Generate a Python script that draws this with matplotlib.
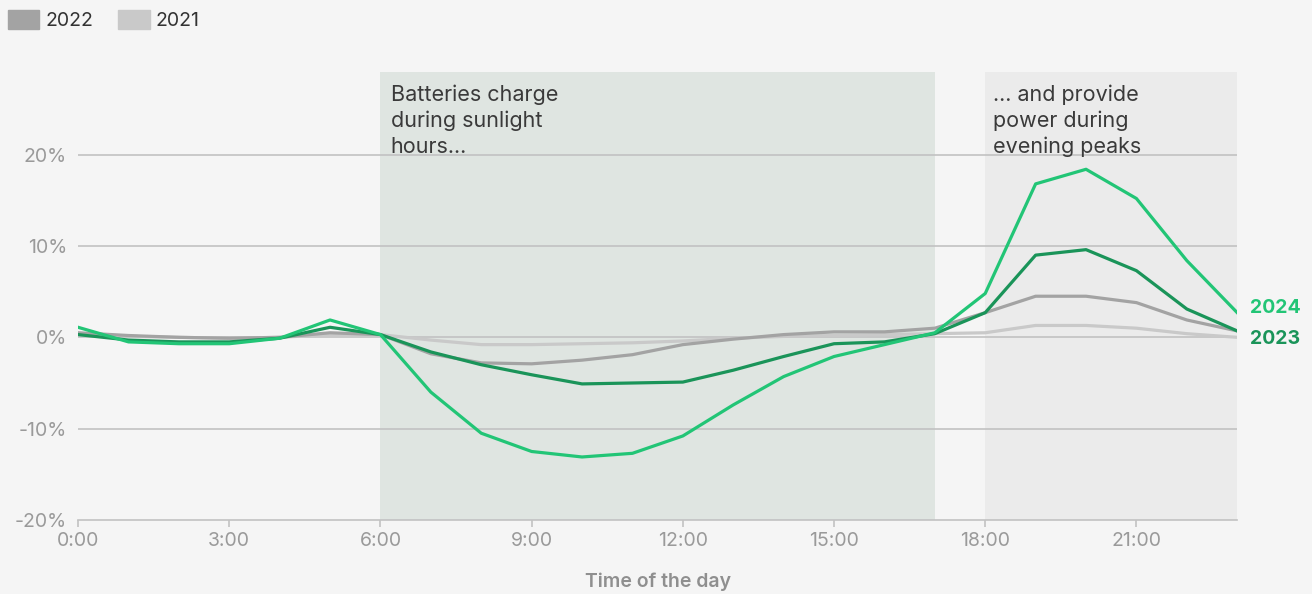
import matplotlib
matplotlib.use("Agg")
import matplotlib.pyplot as plt
from matplotlib.patches import Patch

plt.rcParams['font.family'] = ['Inter', 'DejaVu Sans']

hours = list(range(24))
hour_labels = ['0:00', '3:00', '6:00', '9:00', '12:00', '15:00', '18:00', '21:00']
hour_ticks = [0, 3, 6, 9, 12, 15, 18, 21]

# change in share of the day (%)
y2024 = [1.1, -0.5, -0.7, -0.7, -0.1, 1.9, 0.3, -6.0, -10.5, -12.5, -13.1, -12.7,
         -10.8, -7.4, -4.3, -2.1, -0.8, 0.5, 4.8, 16.8, 18.4, 15.2, 8.4, 2.7]
y2023 = [0.3, -0.3, -0.5, -0.5, -0.1, 1.1, 0.3, -1.6, -3.0, -4.1, -5.1, -5.0,
         -4.9, -3.6, -2.1, -0.7, -0.5, 0.4, 2.7, 9.0, 9.6, 7.3, 3.1, 0.7]
y2022 = [0.5, 0.2, 0.0, -0.1, 0.0, 0.5, 0.3, -1.8, -2.8, -2.9, -2.5, -1.9,
         -0.8, -0.2, 0.3, 0.6, 0.6, 1.0, 2.7, 4.5, 4.5, 3.8, 1.9, 0.7]
y2021 = [0.3, 0.1, 0.0, -0.1, 0.0, 0.3, 0.3, -0.3, -0.8, -0.8, -0.7, -0.6,
         -0.4, -0.1, 0.1, 0.2, 0.3, 0.4, 0.5, 1.3, 1.3, 1.0, 0.4, 0.0]

charge_window = (6, 17)
peak_window = (18, 23)

bg = '#f5f5f5'
c2024 = '#22c576'
c2023 = '#1a9459'
c2022 = '#a3a3a3'
c2021 = '#c9c9c9'

fig = plt.figure(figsize=(13.12, 5.94), dpi=100, facecolor=bg)
ax = fig.add_axes([0.0595, 0.1246, 0.8835, 0.7534])
ax.set_facecolor(bg)

ax.axvspan(*charge_window, color='#dfe5e1', zorder=0, lw=0)
ax.axvspan(*peak_window, color='#ebebeb', zorder=0, lw=0)

for v in [-10, 0, 10, 20]:
    ax.axhline(v, color='#c2c2c2', lw=1.2, zorder=1)

ax.plot(hours, y2021, color=c2021, lw=2.3, zorder=2)
ax.plot(hours, y2022, color=c2022, lw=2.3, zorder=3)
ax.plot(hours, y2023, color=c2023, lw=2.3, zorder=4)
ax.plot(hours, y2024, color=c2024, lw=2.3, zorder=5)

ax.set_xlim(0, 23)
ax.set_ylim(-20, 29)
ax.set_xticks(hour_ticks)
ax.set_xticklabels(hour_labels)
ax.set_yticks([-20, -10, 0, 10, 20])
ax.set_yticklabels(['-20%', '-10%', '0%', '10%', '20%'])
ax.tick_params(axis='x', colors='#c2c2c2', labelcolor='#9a9a9a', labelsize=14,
               length=5, width=1.2, pad=4)
ax.tick_params(axis='y', length=0, labelcolor='#9a9a9a', labelsize=14, pad=8)

for s in ['top', 'right', 'left']:
    ax.spines[s].set_visible(False)
ax.spines['bottom'].set_color('#c2c2c2')
ax.spines['bottom'].set_linewidth(1.2)

ax.set_xlabel('Time of the day', color='#8f8f8f', fontsize=14, fontweight='semibold', labelpad=16)

ax.text(charge_window[0] + 0.2, 27.7, 'Batteries charge\nduring sunlight\nhours...',
        ha='left', va='top', fontsize=15.5, color='#3a3a3a', linespacing=1.35)
ax.text(peak_window[0] + 0.15, 27.7, '... and provide\npower during\nevening peaks',
        ha='left', va='top', fontsize=15.5, color='#3a3a3a', linespacing=1.35)

ax.text(23.25, y2024[-1] + 0.5, '2024', color=c2024, fontsize=14, fontweight='bold',
        ha='left', va='center', clip_on=False)
ax.text(23.25, y2023[-1] - 0.9, '2023', color=c2023, fontsize=14, fontweight='bold',
        ha='left', va='center', clip_on=False)

handles = [Patch(color=c2022, label='2022'), Patch(color=c2021, label='2021')]
fig.legend(handles=handles, loc='upper left', bbox_to_anchor=(-0.007, 1.012), ncol=2,
           frameon=False, fontsize=14, handlelength=1.6, handleheight=1.1,
           handletextpad=0.3, columnspacing=1.3, labelcolor='#333333')

fig.savefig('out.png', dpi=100, facecolor=bg)
